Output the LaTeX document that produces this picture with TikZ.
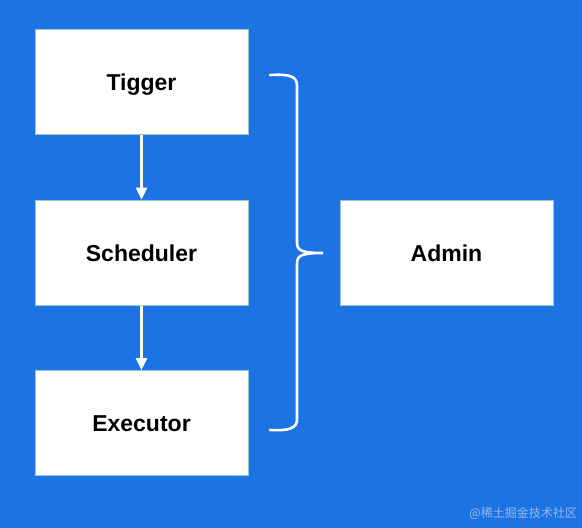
\documentclass[tikz,border=0pt]{standalone}
\usepackage{fontspec}
\setmainfont{Liberation Sans}
\newfontfamily\cjk{Noto Sans CJK SC}
\usetikzlibrary{arrows.meta}
\definecolor{bgblue}{RGB}{28,115,228}
\definecolor{boxedge}{RGB}{150,200,200}
\definecolor{wmark}{RGB}{150,185,236}
\newcommand{\lowtxt}[1]{\raisebox{-8.5pt}[0pt][0pt]{#1}}
\begin{document}
\begin{tikzpicture}[x=1pt,y=-1pt,
  blk/.style={draw=boxedge,line width=1pt,fill=white,minimum width=213pt,minimum height=105pt,inner sep=0pt,font=\fontsize{23}{25}\selectfont\bfseries,text=black},
  flow/.style={draw=white,line width=2.6pt,-{Triangle[length=12pt,width=11pt]}},
  brace/.style={draw=white,line width=2.6pt,line cap=round}]
\fill[bgblue] (0,0) rectangle (582,528);
\useasboundingbox (0,0) rectangle (582,528);
\node[blk] (t) at (141.5,82) {\lowtxt{Tigger}};
\node[blk] (s) at (141.5,252.5) {\lowtxt{Scheduler}};
\node[blk] (e) at (141.5,423) {\lowtxt{Executor}};
\node[blk] (a) at (446.5,252.5) {\lowtxt{Admin}};
\draw[flow] (t.south) -- (s.north);
\draw[flow] (s.south) -- (e.north);
\coordinate (bt) at (270,75);
\coordinate (bm) at (323,253);
\coordinate (bb) at (270,430);
\draw[brace] (bt) .. controls (290,74) and (297,76) .. (297,86)
  -- (297,242) .. controls (297,250) and (300,253) .. (bm)
  .. controls (300,253) and (297,256) .. (297,264)
  -- (297,419) .. controls (297,428) and (290,431) .. (bb);
\node[anchor=south east,inner sep=0pt,text=wmark,font=\cjk\fontsize{12}{13}\selectfont] (w) at (577,520) {@稀土掘金技术社区};
\end{tikzpicture}
\end{document}
